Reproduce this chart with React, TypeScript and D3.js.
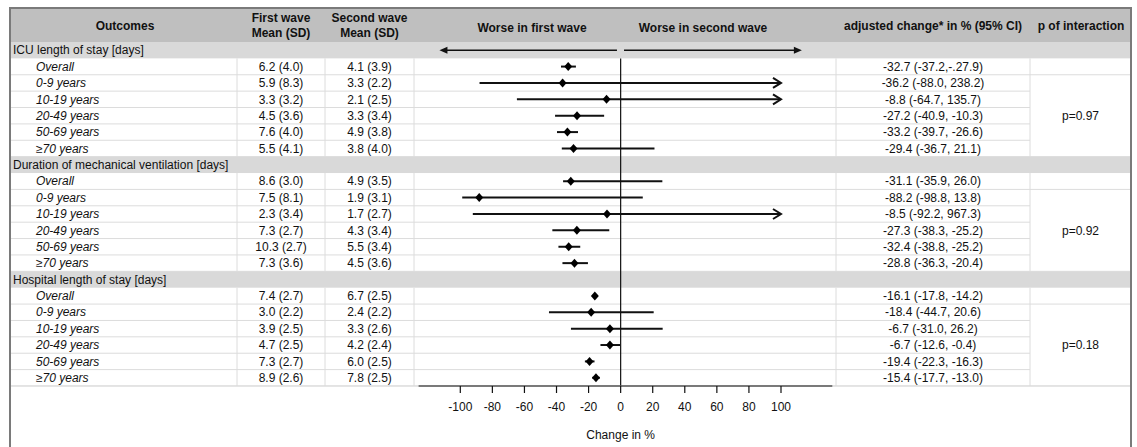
import React from "react"
import * as d3 from "d3"

const groups = [
    "ICU length of stay [days]",
    "Duration of mechanical ventilation [days]",
    "Hospital length of stay [days]",
]
const subgroups = ["Overall", "0-9 years", "10-19 years", "20-49 years", "50-69 years", "\u226570 years"]

const firstWave = [
    ["6.2 (4.0)", "5.9 (8.3)", "3.3 (3.2)", "4.5 (3.6)", "7.6 (4.0)", "5.5 (4.1)"],
    ["8.6 (3.0)", "7.5 (8.1)", "2.3 (3.4)", "7.3 (2.7)", "10.3 (2.7)", "7.3 (3.6)"],
    ["7.4 (2.7)", "3.0 (2.2)", "3.9 (2.5)", "4.7 (2.5)", "7.3 (2.7)", "8.9 (2.6)"],
]
const secondWave = [
    ["4.1 (3.9)", "3.3 (2.2)", "2.1 (2.5)", "3.3 (3.4)", "4.9 (3.8)", "3.8 (4.0)"],
    ["4.9 (3.5)", "1.9 (3.1)", "1.7 (2.7)", "4.3 (3.4)", "5.5 (3.4)", "4.5 (3.6)"],
    ["6.7 (2.5)", "2.4 (2.2)", "3.3 (2.6)", "4.2 (2.4)", "6.0 (2.5)", "7.8 (2.5)"],
]
const changeText = [
    ["-32.7 (-37.2,-.27.9)", "-36.2 (-88.0, 238.2)", "-8.8 (-64.7, 135.7)", "-27.2 (-40.9, -10.3)", "-33.2 (-39.7, -26.6)", "-29.4 (-36.7, 21.1)"],
    ["-31.1 (-35.9, 26.0)", "-88.2 (-98.8, 13.8)", "-8.5 (-92.2, 967.3)", "-27.3 (-38.3, -25.2)", "-32.4 (-38.8, -25.2)", "-28.8 (-36.3, -20.4)"],
    ["-16.1 (-17.8, -14.2)", "-18.4 (-44.7, 20.6)", "-6.7 (-31.0, 26.2)", "-6.7 (-12.6, -0.4)", "-19.4 (-22.3, -16.3)", "-15.4 (-17.7, -13.0)"],
]
// plotted estimates as drawn in the figure
const estimate = [
    [-32.7, -36.2, -8.8, -27.2, -33.2, -29.4],
    [-31.1, -88.2, -8.5, -27.3, -32.4, -28.8],
    [-16.1, -18.4, -6.7, -6.7, -19.4, -15.4],
]
const lower = [
    [-37.2, -88.0, -64.7, -40.9, -39.7, -36.7],
    [-35.9, -98.8, -92.2, -42.6, -38.8, -36.3],
    [-17.8, -44.7, -31.0, -12.6, -22.3, -17.7],
]
const upper = [
    [-27.9, 238.2, 135.7, -10.3, -26.6, 21.1],
    [26.0, 13.8, 967.3, -7.1, -25.2, -20.4],
    [-14.2, 20.6, 26.2, -0.4, -16.3, -13.0],
]
const pInteraction = ["p=0.97", "p=0.92", "p=0.18"]
const xTicks = [-100, -80, -60, -40, -20, 0, 20, 40, 60, 80, 100]
const axisExtent = [-126, 132]
const directionArrows = [-113, -2.3, 2.1, 113]
const clipAt = 100

const W = 1137
const H = 447
const left = 10
const right = 1131
const top = 8
const headerBottom = 42
const rowH = 16.38
const cols = [237, 325, 414, 836, 1030]
const font = "'Liberation Sans', Arial, sans-serif"
const grid = "#dcdcdc"

export default function App() {
    const x = d3.scaleLinear().domain([-100, 100]).range([460.3, 781])
    const rowTop = (i: number) => headerBottom + i * rowH
    const rowMid = (i: number) => rowTop(i) + rowH / 2
    const nRows = groups.length * (subgroups.length + 1)
    const tableBottom = rowTop(nRows)
    const diamond = (cx: number, cy: number) =>
        `M${cx},${cy - 4.5}L${cx + 4},${cy}L${cx},${cy + 4.5}L${cx - 4},${cy}Z`

    const rows: JSX.Element[] = []
    groups.forEach((g, gi) => {
        const gr = gi * (subgroups.length + 1)
        rows.push(
            <g key={"g" + gi}>
                <rect x={left} y={rowTop(gr)} width={right - left} height={rowH} fill="#d9d9d9" />
                <text x={13} y={rowMid(gr)} dy="0.35em" fontSize={12}>{g}</text>
            </g>
        )
        subgroups.forEach((s, si) => {
            const r = gr + 1 + si
            const y = rowMid(r)
            const lo = lower[gi][si]
            const hi = upper[gi][si]
            const x1 = x(Math.max(lo, -clipAt))
            const x2 = x(Math.min(hi, clipAt))
            rows.push(
                <g key={"r" + gi + "-" + si}>
                    {/* row line under each data row, except inside merged p cell */}
                    <line x1={left} x2={si >= 1 && si < subgroups.length - 1 ? cols[4] : right}
                        y1={rowTop(r + 1)} y2={rowTop(r + 1)} stroke={grid} />
                    <text x={36} y={y} dy="0.35em" fontSize={12} fontStyle="italic">{s}</text>
                    <text x={(cols[0] + cols[1]) / 2} y={y} dy="0.35em" fontSize={12} textAnchor="middle">{firstWave[gi][si]}</text>
                    <text x={(cols[1] + cols[2]) / 2} y={y} dy="0.35em" fontSize={12} textAnchor="middle">{secondWave[gi][si]}</text>
                    <text x={(cols[3] + cols[4]) / 2} y={y} dy="0.35em" fontSize={12} textAnchor="middle">{changeText[gi][si]}</text>
                </g>
            )
            rows.push(
                <g key={"m" + gi + "-" + si}>
                    <line x1={x1} x2={x2} y1={y} y2={y} stroke="#111" strokeWidth={2} />
                    {hi > clipAt && (
                        <path d={`M${x2 - 8},${y - 5}L${x2},${y}L${x2 - 8},${y + 5}`} fill="none" stroke="#111" strokeWidth={2} />
                    )}
                    {lo < -clipAt && (
                        <path d={`M${x1 + 8},${y - 5}L${x1},${y}L${x1 + 8},${y + 5}`} fill="none" stroke="#111" strokeWidth={2} />
                    )}
                    <path d={diamond(x(estimate[gi][si]), y)} fill="#000" />
                </g>
            )
        })
        // column lines for the group's data rows
        const yA = rowTop(gr + 1)
        const yB = rowTop(gr + 1 + subgroups.length)
        rows.push(
            <g key={"c" + gi}>
                {cols.map((c, ci) => (
                    <line key={ci} x1={c} x2={c} y1={yA} y2={yB} stroke={grid} />
                ))}
                <text x={(cols[4] + right) / 2} y={(rowTop(gr + 2) + yB) / 2} dy="0.35em" fontSize={12} textAnchor="middle">
                    {pInteraction[gi]}
                </text>
            </g>
        )
    })

    const headerBold = { fontSize: 12, fontWeight: "bold" as const, textAnchor: "middle" as const }

    return (
        <svg width={W} height={H} style={{ position: "absolute", left: 0, top: 0, background: "#fff" }}
            fontFamily={font} fill="#111">
            <rect x={0} y={0} width={W} height={H} fill="#fff" />
            <rect x={left} y={top} width={right - left} height={headerBottom - top} fill="#bfbfbf" />
            {rows}
            <text x={125} y={26} dy="0.35em" {...headerBold}>Outcomes</text>
            <text x={(cols[0] + cols[1]) / 2} y={18} dy="0.35em" {...headerBold}>First wave</text>
            <text x={(cols[0] + cols[1]) / 2} y={33} dy="0.35em" {...headerBold}>Mean (SD)</text>
            <text x={(cols[1] + cols[2]) / 2} y={18} dy="0.35em" {...headerBold}>Second wave</text>
            <text x={(cols[1] + cols[2]) / 2} y={33} dy="0.35em" {...headerBold}>Mean (SD)</text>
            <text x={532} y={28} dy="0.35em" {...headerBold}>Worse in first wave</text>
            <text x={703} y={28} dy="0.35em" {...headerBold}>Worse in second wave</text>
            <text x={933} y={26} dy="0.35em" {...headerBold}>adjusted change* in % (95% CI)</text>
            <text x={1081} y={26} dy="0.35em" {...headerBold}>p of interaction</text>

            {/* direction arrows */}
            <line x1={x(directionArrows[1])} x2={x(directionArrows[0]) + 6} y1={rowMid(0)} y2={rowMid(0)} stroke="#111" strokeWidth={1.5} />
            <path d={`M${x(directionArrows[0])},${rowMid(0)}l8,-3.5v7Z`} fill="#111" />
            <line x1={x(directionArrows[2])} x2={x(directionArrows[3]) - 6} y1={rowMid(0)} y2={rowMid(0)} stroke="#111" strokeWidth={1.5} />
            <path d={`M${x(directionArrows[3])},${rowMid(0)}l-8,-3.5v7Z`} fill="#111" />

            {/* reference line and axis */}
            <line x1={x(0)} x2={x(0)} y1={rowTop(1)} y2={tableBottom} stroke="#111" strokeWidth={1.2} />
            <line x1={left} x2={right} y1={tableBottom} y2={tableBottom} stroke={grid} />
            <line x1={x(axisExtent[0])} x2={x(axisExtent[1])} y1={tableBottom} y2={tableBottom} stroke="#111" strokeWidth={1.2} />
            {xTicks.map(t => (
                <g key={t} transform={`translate(${x(t)},${tableBottom})`}>
                    <line y2={7} stroke="#111" strokeWidth={1.2} />
                    <text y={21} dy="0.35em" fontSize={12} textAnchor="middle">{t}</text>
                </g>
            ))}
            <text x={x(0)} y={435} dy="0.35em" fontSize={12} textAnchor="middle">Change in %</text>

            <rect x={left} y={top} width={right - left} height={H} fill="none" stroke="#7a7a7a" strokeWidth={2} />
        </svg>
    )
}
